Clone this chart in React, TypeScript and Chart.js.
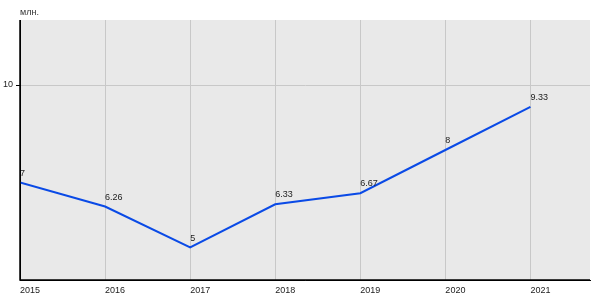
import React, { useEffect, useRef } from "react";
import { Chart, registerables } from "chart.js";

Chart.register(...registerables);

const years = [2015, 2016, 2017, 2018, 2019, 2020, 2021];
const values = [7, 6.26, 5, 6.33, 6.67, 8, 9.33];
const valueLabels = ["7", "6.26", "5", "6.33", "6.67", "8", "9.33"];
const yTicks = [10];
const unitLabel = "млн.";

const FONT = "'Liberation Sans', Arial, sans-serif";

export default function App() {
  const ref = useRef<HTMLCanvasElement | null>(null);

  useEffect(() => {
    document.body.style.margin = "0";
    const canvas = ref.current;
    if (!canvas) return;

    const bgPlugin = {
      id: "plotBg",
      beforeDraw(chart: any) {
        const { ctx, chartArea } = chart;
        ctx.save();
        ctx.fillStyle = "#e9e9e9";
        ctx.fillRect(chartArea.left, chartArea.top, chartArea.right - chartArea.left, chartArea.bottom - chartArea.top);
        ctx.restore();
      },
    };

    const labelPlugin = {
      id: "labels",
      afterDraw(chart: any) {
        const { ctx, chartArea } = chart;
        const meta = chart.getDatasetMeta(0);
        ctx.save();
        ctx.font = `9px ${FONT}`;
        ctx.fillStyle = "#222";
        ctx.textAlign = "left";
        ctx.textBaseline = "alphabetic";
        meta.data.forEach((pt: any, i: number) => {
          ctx.fillText(valueLabels[i], pt.x, pt.y - 7);
        });
        ctx.fillStyle = "#333";
        ctx.fillText(unitLabel, chartArea.left, chartArea.top - 5);
        // redraw axis lines on top in black
        ctx.strokeStyle = "#000";
        ctx.lineWidth = 1.5;
        ctx.beginPath();
        ctx.moveTo(chartArea.left, chartArea.top);
        ctx.lineTo(chartArea.left, chartArea.bottom);
        ctx.lineTo(chartArea.right, chartArea.bottom);
        ctx.stroke();
        ctx.restore();
      },
    };

    const chart = new Chart(canvas, {
      type: "line",
      data: {
        datasets: [
          {
            data: years.map((y, i) => ({ x: y, y: values[i] })),
            borderColor: "#0a4ae6",
            borderWidth: 2,
            pointRadius: 0,
            tension: 0,
          },
        ],
      },
      options: {
        animation: false,
        responsive: false,
        layout: { padding: { top: 20, right: 10, left: 0, bottom: 0 } },
        plugins: { legend: { display: false }, tooltip: { enabled: false } },
        scales: {
          x: {
            type: "linear",
            min: years[0],
            max: years[years.length - 1] + 0.7,
            afterBuildTicks(scale: any) {
              scale.ticks = years.map((v) => ({ value: v }));
            },
            afterFit(scale: any) {
              scale.height = 20;
            },
            ticks: {
              align: "start",
              maxRotation: 0,
              autoSkip: false,
              padding: 5,
              color: "#222",
              font: { family: FONT, size: 9 },
              callback: (v: any) => String(v),
            },
            grid: {
              color: (c: any) => (c.tick && c.tick.value === years[0] ? "rgba(0,0,0,0)" : "#c8c8c8"),
              lineWidth: 1,
              drawTicks: false,
            },
            border: { color: "#000", width: 1 },
          },
          y: {
            min: 4,
            max: 12,
            afterBuildTicks(scale: any) {
              scale.ticks = yTicks.map((v) => ({ value: v }));
            },
            afterFit(scale: any) {
              scale.width = 20;
            },
            ticks: {
              padding: 3,
              color: "#222",
              font: { family: FONT, size: 9 },
              callback: (v: any) => String(v),
            },
            grid: { color: "#c8c8c8", tickColor: "#000", tickLength: 4, lineWidth: 1 },
            border: { color: "#000", width: 1 },
          },
        },
      },
      plugins: [bgPlugin, labelPlugin],
    });

    return () => chart.destroy();
  }, []);

  return <canvas ref={ref} width={600} height={300} style={{ display: "block" }} />;
}
